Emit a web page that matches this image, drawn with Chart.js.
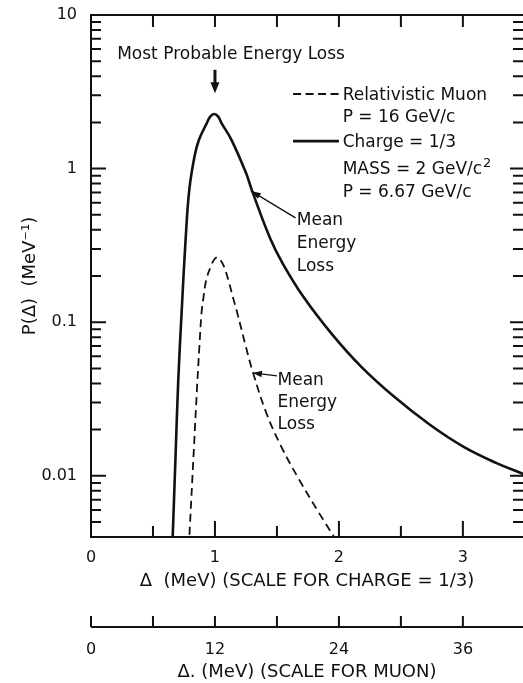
<!DOCTYPE html>
<html>
<head>
<meta charset="utf-8">
<title>Energy loss distribution</title>
<script src="https://cdn.jsdelivr.net/npm/chart.js@4"></script>
<style>
  html, body { margin: 0; padding: 0; background: #fff; }
  canvas { display: block; }
</style>
</head>
<body>
<canvas id="eloss" width="523" height="683"></canvas>
<script>
// charge = 1/3, mass 2 GeV/c^2, P = 6.67 GeV/c  (delta in MeV, lower scale)
const chargeDelta = [0.652, 0.659, 0.681, 0.704, 0.732, 0.764, 0.793, 0.835, 0.871, 0.933, 0.962, 0.994,
  1.026, 1.054, 1.133, 1.25, 1.296, 1.444, 1.546, 1.712, 1.947, 2.183, 2.444, 2.734, 3.003, 3.272, 3.473, 3.52];
const chargeProb = [0.0028, 0.004, 0.0127, 0.042, 0.12, 0.354, 0.73, 1.20, 1.54, 1.97, 2.18, 2.27,
  2.18, 1.97, 1.54, 0.94, 0.73, 0.354, 0.242, 0.147, 0.083, 0.051, 0.0328, 0.0215, 0.0155, 0.0121, 0.0104, 0.0100];

// relativistic muon, P = 16 GeV/c  (delta in MeV, muon scale)
const muonDelta = [9.39, 9.52, 9.97, 10.27, 10.49, 10.70, 10.90, 11.16, 11.59, 11.93, 12.23, 12.51, 12.88,
  13.29, 13.72, 14.16, 15.0, 15.70, 16.98, 18.42, 20.17, 22.10, 23.54, 24.0];
const muonProb = [0.0028, 0.004, 0.0155, 0.038, 0.069, 0.115, 0.147, 0.189, 0.230, 0.256, 0.265, 0.256, 0.230,
  0.189, 0.147, 0.115, 0.069, 0.0466, 0.0256, 0.0155, 0.0094, 0.0057, 0.004, 0.0036];

const xLabelsCharge = [0, 1, 2, 3];
const xLabelsMuon = [0, 12, 24, 36];
const yDecades = [10, 1, 0.1, 0.01];
const yDecadeLabels = ['10', '1', '0.1', '0.01'];

const xMax = 3.485;
const muonPerCharge = 12;
const ink = '#111';
const FONT = '"DejaVu Sans", sans-serif';

function pts(xs, ys) {
  return xs.map((v, i) => ({ x: v, y: ys[i] }));
}

function arrowHead(ctx, x1, y1, x2, y2, len, half) {
  const a = Math.atan2(y2 - y1, x2 - x1);
  ctx.beginPath();
  ctx.moveTo(x2, y2);
  ctx.lineTo(x2 - len * Math.cos(a) + half * Math.sin(a), y2 - len * Math.sin(a) - half * Math.cos(a));
  ctx.lineTo(x2 - len * Math.cos(a) - half * Math.sin(a), y2 - len * Math.sin(a) + half * Math.cos(a));
  ctx.closePath();
  ctx.fill();
}

const framePlugin = {
  id: 'frame',
  afterDraw(chart) {
    const { ctx, chartArea: a, scales: { x, x2, y } } = chart;
    const X = v => x.getPixelForValue(v);
    const Y = v => y.getPixelForValue(v);
    ctx.save();
    ctx.strokeStyle = ink;
    ctx.fillStyle = ink;
    ctx.lineWidth = 2;

    // box (left, top, bottom)
    ctx.beginPath();
    ctx.moveTo(a.left, a.top); ctx.lineTo(a.right, a.top);
    ctx.moveTo(a.left, a.top - 1); ctx.lineTo(a.left, a.bottom + 1);
    ctx.moveTo(a.left, a.bottom); ctx.lineTo(a.right, a.bottom);
    ctx.stroke();

    // log ticks on both sides
    ctx.beginPath();
    for (let e = -3; e <= 1; e++) {
      for (let d = 1; d <= 9; d++) {
        const v = d * Math.pow(10, e);
        if (v < y.min * 0.999 || v > y.max * 1.001) continue;
        const p = Y(v);
        ctx.moveTo(a.left, p); ctx.lineTo(a.left + (d === 1 ? 15 : 10), p);
        ctx.moveTo(a.right, p); ctx.lineTo(a.right - (d === 1 ? 13 : 10), p);
      }
    }
    // x ticks, bottom (up) and top (down)
    x.ticks.forEach(t => {
      if (t.value <= 0) return;
      const p = X(t.value);
      const major = Number.isInteger(t.value);
      ctx.moveTo(p, a.bottom); ctx.lineTo(p, a.bottom - (major ? 16 : 11));
      ctx.moveTo(p, a.top); ctx.lineTo(p, a.top + 12);
    });
    ctx.stroke();

    // muon scale axis
    const ay = x2.top + 35;
    ctx.beginPath();
    ctx.moveTo(a.left, ay); ctx.lineTo(a.right, ay);
    x2.ticks.forEach(t => {
      const p = x2.getPixelForValue(t.value);
      ctx.moveTo(p, ay); ctx.lineTo(p, ay - 11);
    });
    ctx.stroke();

    // annotations
    ctx.font = '17px ' + FONT;
    ctx.textBaseline = 'alphabetic';
    ctx.textAlign = 'center';
    ctx.fillText('Most Probable Energy Loss', X(1.13), Y(5.2));

    // most probable arrow
    ctx.lineWidth = 3;
    ctx.beginPath();
    ctx.moveTo(X(1.0), Y(4.4)); ctx.lineTo(X(1.0), Y(3.1) - 6);
    ctx.stroke();
    arrowHead(ctx, X(1.0), Y(4.4), X(1.0), Y(3.1), 11, 4.5);

    // legend
    ctx.textAlign = 'left';
    const lx = X(2.03);
    ctx.fillText('Relativistic Muon', lx, Y(2.80));
    ctx.fillText('P = 16 GeV/c', lx, Y(2.02));
    ctx.fillText('Charge = 1/3', lx, Y(1.39));
    const mass = 'MASS = 2 GeV/c';
    ctx.fillText(mass, lx, Y(0.923));
    const mw = ctx.measureText(mass).width;
    ctx.fillText('P = 6.67 GeV/c', lx, Y(0.657));
    ctx.font = '13px ' + FONT;
    ctx.fillText('2', lx + mw + 1, Y(0.923) - 7);

    ctx.lineWidth = 1.8;
    ctx.setLineDash([8, 4.5]);
    ctx.beginPath();
    ctx.moveTo(X(1.63), Y(3.06)); ctx.lineTo(X(2.0), Y(3.06));
    ctx.stroke();
    ctx.setLineDash([]);
    ctx.lineWidth = 2.6;
    ctx.beginPath();
    ctx.moveTo(X(1.63), Y(1.51)); ctx.lineTo(X(2.0), Y(1.51));
    ctx.stroke();

    // mean energy loss labels
    ctx.font = '17px ' + FONT;
    ['Mean', 'Energy', 'Loss'].forEach((s, i) => {
      ctx.fillText(s, X(1.66), Y(0.43) + i * 23);
      ctx.fillText(s, X(1.505), Y(0.039) + i * 22);
    });
    ctx.lineWidth = 1.3;
    ctx.beginPath();
    ctx.moveTo(X(1.65), Y(0.478)); ctx.lineTo(X(1.29), Y(0.716));
    ctx.moveTo(X(1.5), Y(0.0448)); ctx.lineTo(X(1.306), Y(0.0468));
    ctx.stroke();
    arrowHead(ctx, X(1.65), Y(0.478), X(1.29), Y(0.716), 10, 3.2);
    arrowHead(ctx, X(1.5), Y(0.0448), X(1.306), Y(0.0468), 9, 3.2);

    ctx.restore();
  }
};

const tickFont = { family: FONT, size: 16 };
const titleFont = { family: FONT, size: 18 };
const noGrid = { display: false, drawTicks: false, tickLength: 0 };

new Chart(document.getElementById('eloss'), {
  type: 'scatter',
  data: {
    datasets: [
      {
        label: 'Charge = 1/3',
        data: pts(chargeDelta, chargeProb),
        xAxisID: 'x',
        showLine: true,
        borderColor: ink,
        borderWidth: 2.6,
        pointRadius: 0,
        tension: 0.4
      },
      {
        label: 'Relativistic Muon',
        data: pts(muonDelta, muonProb),
        xAxisID: 'x2',
        showLine: true,
        borderColor: ink,
        borderWidth: 1.8,
        borderDash: [8, 5],
        pointRadius: 0,
        tension: 0.4
      }
    ]
  },
  options: {
    responsive: false,
    animation: false,
    devicePixelRatio: 1,
    layout: { padding: { top: 15, right: 0, bottom: 0, left: 0 } },
    plugins: { legend: { display: false }, tooltip: { enabled: false } },
    scales: {
      x: {
        type: 'linear', position: 'bottom', weight: 0,
        min: 0, max: xMax,
        afterFit: s => { s.height = 55; },
        grid: noGrid, border: { display: false },
        ticks: {
          stepSize: 0.5, includeBounds: false, autoSkip: false, maxRotation: 0,
          padding: 11, color: ink, font: tickFont,
          callback: v => xLabelsCharge.includes(v) ? String(v) : ''
        },
        title: {
          display: true, text: 'Δ  (MeV) (SCALE FOR CHARGE = 1/3)',
          color: ink, font: titleFont, padding: { top: 0, bottom: 0 }
        }
      },
      x2: {
        type: 'linear', position: 'bottom', weight: 1,
        min: 0, max: xMax * muonPerCharge,
        afterFit: s => { s.height = 91; },
        grid: noGrid, border: { display: false },
        ticks: {
          stepSize: 6, includeBounds: false, autoSkip: false, maxRotation: 0,
          padding: 48, color: ink, font: tickFont,
          callback: v => xLabelsMuon.includes(v) ? String(v) : ''
        },
        title: {
          display: true, text: 'Δ. (MeV) (SCALE FOR MUON)',
          color: ink, font: titleFont, padding: { top: 0, bottom: 0 }
        }
      },
      y: {
        type: 'logarithmic', position: 'left',
        min: 0.004, max: 10,
        afterFit: s => { s.width = 91; s.paddingTop = 0; s.paddingBottom = 0; },
        grid: noGrid, border: { display: false },
        ticks: {
          autoSkip: false, padding: 14, color: ink, font: tickFont,
          callback: v => {
            const i = yDecades.findIndex(d => Math.abs(v - d) / d < 1e-6);
            return i >= 0 ? yDecadeLabels[i] : '';
          }
        },
        title: {
          display: true, text: 'P(Δ)  (MeV⁻¹)',
          color: ink, font: titleFont, padding: { top: 20, bottom: 0 }
        }
      }
    }
  },
  plugins: [framePlugin]
});
</script>
</body>
</html>
